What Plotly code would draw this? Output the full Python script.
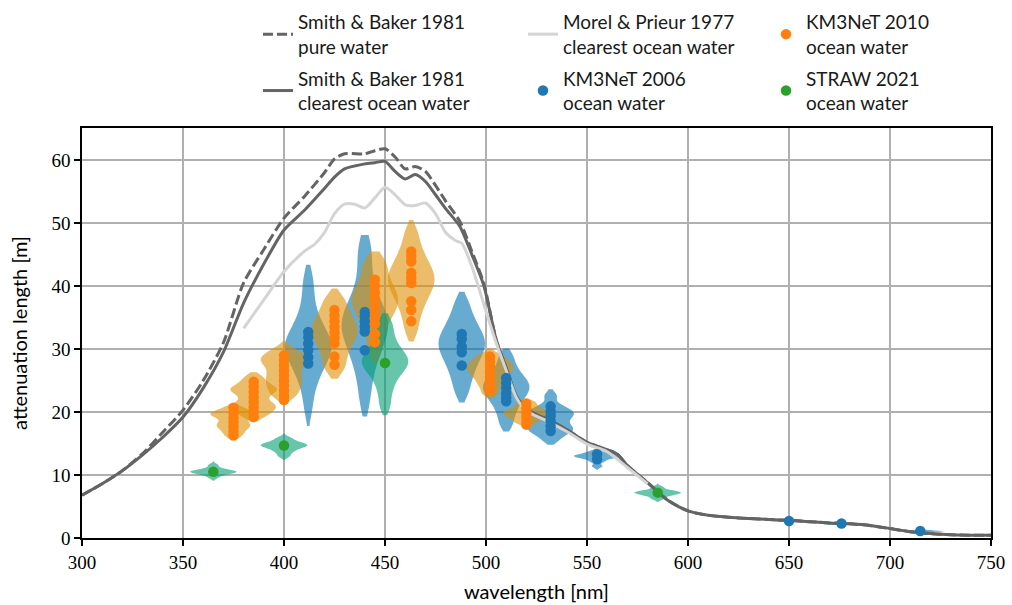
import plotly.graph_objects as go

# ---------------- reference curves ----------------
wl_sb = [300, 310, 320, 330, 340, 350, 360, 370, 380, 390, 400, 410, 420, 425, 430, 440, 445,
         450, 455, 460, 465, 470, 475, 480, 487, 493, 499, 505, 510, 515, 520, 525, 530, 540,
         550, 560, 565, 570, 580, 590, 600, 610, 620, 630, 640, 650, 660, 670, 680, 690, 700,
         710, 720, 730, 740, 750]
sb_clear = [6.8, 8.6, 10.7, 13.2, 16.0, 19.2, 23.8, 29.5, 37.3, 43.5, 48.9, 52.0, 55.5, 57.3,
            58.6, 59.4, 59.6, 59.8, 58.2, 57.0, 57.7, 56.6, 54.5, 52.3, 49.5, 45.0, 40.0, 31.5,
            27.0, 22.5, 20.5, 19.6, 18.9, 17.2, 15.2, 14.0, 13.3, 11.5, 8.8, 6.0, 4.3, 3.6, 3.3,
            3.1, 2.95, 2.8, 2.6, 2.4, 2.25, 2.0, 1.5, 1.0, 0.7, 0.5, 0.45, 0.43]
sb_pure = [6.8, 8.6, 10.7, 13.4, 16.8, 20.3, 25.0, 31.0, 40.5, 45.8, 50.8, 54.2, 58.0, 60.2,
           61.0, 61.0, 61.5, 61.8, 60.5, 58.6, 59.0, 58.2, 56.0, 53.5, 50.3, 45.5, 40.3, 31.5,
           27.0, 22.5, 20.5, 19.6, 18.9, 17.2, 15.2, 14.0, 13.3, 11.5, 8.8, 6.0, 4.3, 3.6, 3.3,
           3.1, 2.95, 2.8, 2.6, 2.4, 2.25, 2.0, 1.5, 1.0, 0.7, 0.5, 0.45, 0.43]
wl_mp = [380, 390, 400, 410, 415, 420, 425, 430, 435, 440, 445, 450, 455, 460, 465, 470, 475,
         480, 485, 488, 493, 500, 505, 510, 515, 520, 530, 540, 550, 560, 570, 580]
mp_clear = [33.3, 37.8, 42.3, 45.5, 46.6, 48.5, 51.5, 53.0, 53.0, 52.4, 54.0, 55.7, 54.5, 52.9,
            52.8, 53.2, 51.5, 48.5, 47.2, 46.8, 43.1, 36.0, 31.0, 26.6, 22.3, 20.2, 18.6, 16.9,
            14.9, 13.7, 11.2, 8.6]

# ---------------- KM3NeT 2006 ----------------
km06_wl = [412, 440, 488, 510, 532, 555, 650, 676, 715]
km06_span = [[17.8, 43.4], [19.3, 48.1], [21.5, 39.1], [16.9, 30.1], [14.8, 23.6],
             [10.8, 14.2], [2.45, 3.1], [1.95, 2.6], [0.75, 1.4]]
km06_samples = [
    [20.5, 23.5, 25.2, 26.4, 27.4, 28.2, 28.9, 29.5, 30.0, 30.5, 31.0, 31.6, 32.2, 32.9, 33.8, 35.0, 36.6, 39.0, 41.5],
    [21.5, 24.5, 26.8, 28.3, 29.6, 30.7, 31.6, 32.4, 33.1, 33.8, 34.5, 35.2, 36.0, 36.9, 38.0, 39.5, 41.8, 44.5, 46.8],
    [23.0, 24.8, 26.2, 27.3, 28.2, 29.0, 29.7, 30.3, 30.9, 31.5, 32.1, 32.8, 33.6, 34.6, 35.8, 37.6],
    [18.0, 19.6, 20.8, 21.7, 22.4, 23.0, 23.5, 24.0, 24.5, 25.0, 25.6, 26.4, 27.5, 29.0],
    [15.6, 16.5, 17.0, 17.3, 17.6, 18.2, 18.8, 19.3, 19.7, 20.0, 20.4, 21.0, 22.6],
    [11.4, 12.1, 12.5, 12.75, 12.9, 13.0, 13.1, 13.25, 13.45, 13.8],
    [2.6, 2.7, 2.75, 2.8, 2.85, 2.95],
    [2.1, 2.2, 2.25, 2.3, 2.35, 2.45],
    [0.9, 1.0, 1.05, 1.1, 1.15, 1.25],
]
km06_dots = [
    [32.7, 31.9, 30.9, 29.8, 28.7, 27.7],
    [35.9, 35.2, 34.4, 33.6, 32.8, 29.8],
    [32.4, 31.6, 30.4, 29.5, 27.4],
    [25.4, 24.6, 23.8, 23.0, 22.3, 21.7],
    [20.9, 20.1, 19.4, 18.6, 17.8, 17.0],
    [13.3, 12.5],
    [2.7],
    [2.3],
    [1.1],
]

# ---------------- KM3NeT 2010 ----------------
km10_wl = [375, 385, 400, 425, 445, 463, 502, 520]
km10_span = [[15.5, 21.3], [18.5, 26.3], [21.5, 31.2], [25.3, 39.6], [27.8, 45.5],
             [31.2, 50.5], [22.2, 30.1], [17.7, 22.2]]
km10_samples = [
    [16.1, 16.7, 17.2, 17.6, 17.9, 18.2, 18.6, 19.1, 19.4, 19.6, 19.8, 20.0, 20.3, 20.8],
    [19.2, 19.8, 20.3, 20.7, 21.0, 21.4, 22.0, 22.7, 23.2, 23.5, 23.8, 24.2, 24.8, 25.6],
    [22.3, 23.1, 23.8, 24.4, 25.0, 25.6, 26.2, 26.9, 27.5, 28.0, 28.4, 28.8, 29.3, 30.0],
    [26.6, 28.0, 29.3, 30.4, 31.3, 32.0, 32.7, 33.3, 34.0, 34.8, 35.7, 36.8, 38.2],
    [29.5, 31.8, 33.5, 34.8, 35.8, 36.6, 37.3, 38.0, 38.7, 39.5, 40.4, 41.6, 43.0, 44.3],
    [33.0, 35.3, 36.9, 38.1, 39.1, 39.9, 40.6, 41.3, 42.0, 42.8, 43.7, 44.8, 46.3, 48.5],
    [23.0, 24.1, 24.9, 25.6, 26.1, 26.6, 27.0, 27.4, 27.9, 28.4, 29.1],
    [18.2, 18.7, 19.1, 19.4, 19.7, 19.9, 20.2, 20.5, 21.0, 21.6],
]
km10_dots = [
    [20.7, 19.9, 19.1, 18.4, 17.7, 17.0, 16.3],
    [24.8, 24.0, 23.2, 22.4, 21.6, 20.8, 20.0, 19.2],
    [29.0, 28.2, 27.4, 26.6, 25.8, 25.0, 24.2, 23.4, 22.6, 21.9],
    [36.2, 35.3, 34.4, 33.5, 32.6, 31.8, 30.9, 28.8, 27.5],
    [41.0, 40.0, 39.0, 38.0, 37.0, 36.0, 35.0, 34.0, 32.4, 31.1],
    [45.5, 44.7, 43.9, 42.1, 41.3, 40.5, 37.6, 36.2, 34.4],
    [28.8, 28.0, 27.2, 26.4, 25.6, 24.8, 24.0, 23.4],
    [21.3, 20.6, 19.9, 19.2, 18.5, 18.0],
]

# ---------------- STRAW 2021 ----------------
straw_wl = [365, 400, 450, 585]
straw_span = [[9.1, 12.4], [12.4, 16.6], [19.5, 35.7], [5.7, 8.7]]
straw_samples = [
    [9.6, 10.0, 10.2, 10.35, 10.45, 10.5, 10.6, 10.7, 10.85, 11.1, 11.6],
    [13.0, 13.6, 14.0, 14.3, 14.5, 14.65, 14.8, 14.95, 15.15, 15.45, 15.9],
    [21.0, 23.2, 24.8, 25.9, 26.7, 27.3, 27.8, 28.3, 28.8, 29.4, 30.2, 31.3, 32.8, 34.4],
    [6.2, 6.6, 6.85, 7.0, 7.12, 7.22, 7.32, 7.45, 7.65, 8.1],
]
straw_dots = [[10.5], [14.7], [27.8], [7.2]]

x_ticks = [300, 350, 400, 450, 500, 550, 600, 650, 700, 750]
y_ticks = [0, 10, 20, 30, 40, 50, 60]

# ---------------- styles ----------------
DARK = "#646464"
LIGHT = "#d4d4d4"
SANS = "Lato"
SERIF = "Liberation Serif"

fig = go.Figure()

fig.add_trace(go.Scatter(x=wl_sb, y=sb_clear, mode="lines",
                         line=dict(color=DARK, width=3, shape="spline", smoothing=0.7),
                         name="Smith & Baker 1981<br>clearest ocean water", legend="legend",
                         legendgroup="b", legendrank=2, hoverinfo="skip"))
fig.add_trace(go.Scatter(x=wl_sb, y=sb_pure, mode="lines",
                         line=dict(color=DARK, width=3, dash="10px,4px", shape="spline", smoothing=0.7),
                         name="Smith & Baker 1981<br>pure water", legend="legend",
                         legendgroup="a", legendrank=1, hoverinfo="skip"))
fig.add_trace(go.Scatter(x=wl_mp, y=mp_clear, mode="lines",
                         line=dict(color=LIGHT, width=3, shape="spline", smoothing=0.7),
                         name="Morel & Prieur 1977<br>clearest ocean water", legend="legend2",
                         legendgroup="c", legendrank=1, hoverinfo="skip"))


def add_violins(wls, samples, spans, fill):
    for wl, s, sp in zip(wls, samples, spans):
        fig.add_trace(go.Violin(
            x0=wl, y=s, orientation="v", width=23, scalemode="width",
            spanmode="manual", span=sp, bandwidth=0.075 * (sp[1] - sp[0]),
            points=False, fillcolor=fill, line=dict(width=0, color=fill),
            box=dict(visible=False), meanline=dict(visible=False),
            showlegend=False, hoverinfo="skip", side="both"))


add_violins(km06_wl, km06_samples, km06_span, "rgba(1,115,178,0.6)")
add_violins(km10_wl, km10_samples, km10_span, "rgba(222,143,5,0.6)")
add_violins(straw_wl, straw_samples, straw_span, "rgba(2,158,115,0.6)")


def add_dots(wls, dots, color, name, legend, group, rank):
    xs, ys = [], []
    for wl, d in zip(wls, dots):
        xs += [wl] * len(d)
        ys += d
    fig.add_trace(go.Scatter(x=xs, y=ys, mode="markers",
                             marker=dict(color=color, size=10.5, line=dict(width=0)),
                             name=name, legend=legend, legendgroup=group, legendrank=rank,
                             hoverinfo="skip"))


add_dots(km06_wl, km06_dots, "#1f77b4", "KM3NeT 2006<br>ocean water", "legend2", "d", 2)
add_dots(km10_wl, km10_dots, "#ff7f0e", "KM3NeT 2010<br>ocean water", "legend3", "e", 1)
add_dots(straw_wl, straw_dots, "#2ca02c", "STRAW 2021<br>ocean water", "legend3", "f", 2)

leg = dict(orientation="v", xanchor="left", yanchor="top", y=1.305,
           bgcolor="rgba(0,0,0,0)", font=dict(family=SANS, size=19, color="#1a1a1a"),
           tracegroupgap=4, traceorder="grouped", valign="middle")

axis_common = dict(showline=True, linecolor="black", linewidth=1.6, mirror=True,
                   ticks="outside", ticklen=6, tickwidth=1.6, tickcolor="black",
                   showgrid=True, gridcolor="#b0b0b0", gridwidth=1.6, zeroline=False,
                   tickfont=dict(family=SERIF, size=19, color="black"))

fig.update_layout(
    width=1012, height=605,
    margin=dict(l=82, r=21, t=128, b=67, autoexpand=False),
    plot_bgcolor="white", paper_bgcolor="white",
    violinmode="overlay", violingap=0, violingroupgap=0,
    legend=dict(x=0.1936, **leg),
    legend2=dict(x=0.4851, **leg),
    legend3=dict(x=0.7525, **leg),
    xaxis=dict(range=[300, 750], type="linear", tickvals=x_ticks,
               title=dict(text="wavelength [nm]", font=dict(family=SANS, size=20, color="black"),
                          standoff=13), **axis_common),
    yaxis=dict(range=[0, 65.1], tickvals=y_ticks,
               title=dict(text="attenuation length [m]", font=dict(family=SANS, size=20, color="black"),
                          standoff=18), **axis_common),
)

fig.write_html("out.html")
